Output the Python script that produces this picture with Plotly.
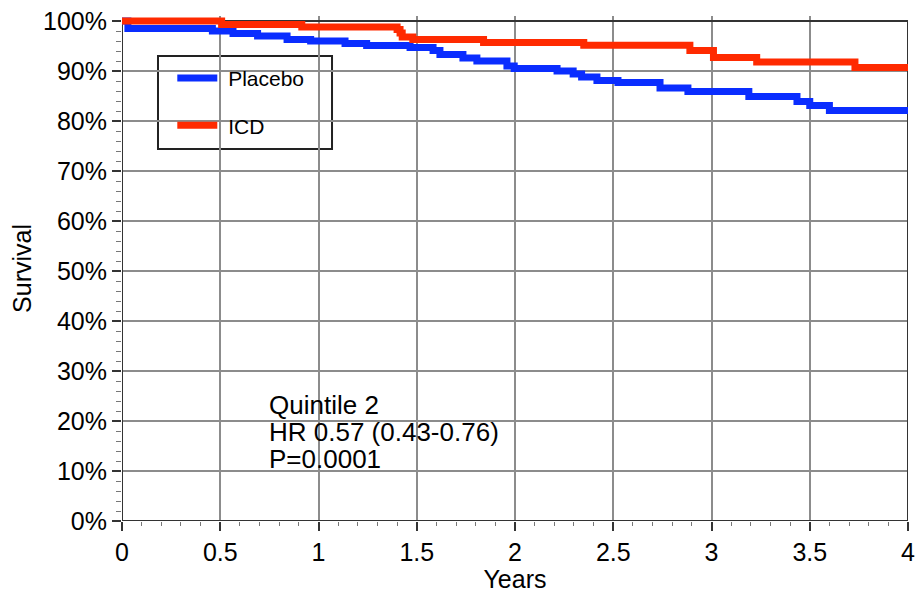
import plotly.graph_objects as go

# Kaplan-Meier step points (years, % surviving)
placebo_t = [0, 0.03, 0.46, 0.565, 0.69, 0.84, 0.96, 1.135, 1.245, 1.466, 1.583, 1.618,
             1.735, 1.806, 1.959, 1.996, 2.214, 2.296, 2.339, 2.417, 2.524, 2.738, 2.88,
             3.19, 3.435, 3.50, 3.60, 4.0]
placebo_s = [100, 98.5, 98.0, 97.5, 97.0, 96.3, 96.0, 95.5, 95.1, 94.7, 94.1, 93.3,
             92.6, 92.0, 91.0, 90.5, 90.0, 89.4, 88.8, 88.1, 87.7, 86.6, 85.9,
             84.9, 83.9, 83.1, 82.1, 82.1]

icd_t = [0, 0.507, 0.915, 1.40, 1.415, 1.426, 1.48, 1.84, 2.35, 2.89, 3.01, 3.23, 3.73, 4.0]
icd_s = [100, 99.3, 98.8, 98.3, 97.6, 96.8, 96.3, 95.7, 95.15, 94.1, 92.7, 91.8, 90.7, 90.7]

x_ticks = [0, 0.5, 1, 1.5, 2, 2.5, 3, 3.5, 4]
x_tick_text = ["0", "0.5", "1", "1.5", "2", "2.5", "3", "3.5", "4"]
y_ticks = [0, 10, 20, 30, 40, 50, 60, 70, 80, 90, 100]
y_tick_text = ["0%", "10%", "20%", "30%", "40%", "50%", "60%", "70%", "80%", "90%", "100%"]

stats_lines = ["Quintile 2", "HR 0.57 (0.43-0.76)", "P=0.0001"]

FONT = "Liberation Sans, Arial, Helvetica, sans-serif"
BLUE = "#0a2dff"
RED = "#ff2a00"
AXIS = "#333333"
GRID = "#8c8c8c"

fig = go.Figure()
fig.add_trace(go.Scatter(x=placebo_t, y=placebo_s, mode="lines", name="\u00a0Placebo",
                         line=dict(color=BLUE, width=7, shape="hv"),
                         legendgroup="p"))
fig.add_trace(go.Scatter(x=icd_t, y=icd_s, mode="lines", name="\u00a0ICD",
                         line=dict(color=RED, width=7, shape="hv"),
                         legendgroup="i"))

# plot frame
fig.add_shape(type="rect", xref="x", yref="y", x0=0, x1=4, y0=0, y1=100,
              line=dict(color=AXIS, width=2), layer="between")
# legend frame (white panel over the grid)
fig.add_shape(type="rect", xref="paper", yref="paper",
              x0=0.0458, x1=0.2672, y0=0.7366, y1=0.9208,
              line=dict(color="#222222", width=2), fillcolor="white", layer="between")

line_y = [23.3, 17.9, 12.5]
for txt, yy in zip(stats_lines, line_y):
    fig.add_annotation(x=0.74, y=yy, xref="x", yref="y", text=txt, showarrow=False,
                       xanchor="left", yanchor="middle",
                       font=dict(family=FONT, size=26, color="black"))

fig.update_xaxes(range=[0, 4], tickvals=x_ticks, ticktext=x_tick_text,
                 showgrid=True, gridcolor=GRID, gridwidth=1.5,
                 ticks="outside", ticklen=9, tickwidth=1.5, tickcolor=AXIS,
                 minor=dict(dtick=0.1, ticks="outside", ticklen=4, tickcolor="#777777",
                            tickwidth=1, showgrid=False),
                 showline=False, zeroline=False,
                 tickfont=dict(family=FONT, size=25, color="black"),
                 title=dict(text="Years", font=dict(family=FONT, size=25, color="black"),
                            standoff=4),
                 automargin=False)
fig.update_yaxes(range=[0, 101], tickvals=y_ticks, ticktext=y_tick_text,
                 showgrid=True, gridcolor=GRID, gridwidth=1.5,
                 ticks="outside", ticklen=9, tickwidth=1.5, tickcolor=AXIS,
                 minor=dict(dtick=2, ticks="outside", ticklen=5, tickcolor="#777777",
                            tickwidth=1, showgrid=False),
                 showline=False, zeroline=False,
                 tickfont=dict(family=FONT, size=25, color="black"),
                 title=dict(text="Survival", font=dict(family=FONT, size=25, color="black"),
                            standoff=4),
                 automargin=False)

fig.update_layout(
    width=922, height=593,
    margin=dict(l=122, r=14, t=16, b=72),
    paper_bgcolor="white", plot_bgcolor="white",
    showlegend=True,
    legend=dict(x=0.064, y=0.917, xanchor="left", yanchor="top",
                bgcolor="rgba(0,0,0,0)", borderwidth=0,
                font=dict(family=FONT, size=21, color="black"),
                tracegroupgap=17, itemwidth=40,
                traceorder="grouped"),
)

fig.write_html("out.html")
